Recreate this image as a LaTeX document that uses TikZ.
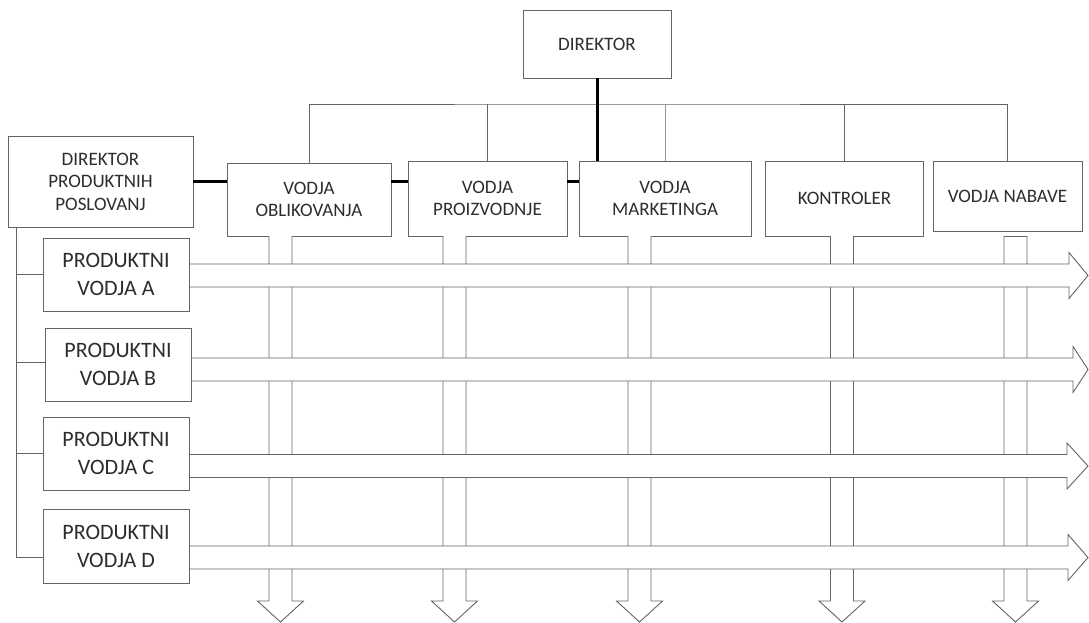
\documentclass[tikz,border=0pt]{standalone}
\usepackage{fontspec}
\setmainfont{Carlito}
\definecolor{linegray}{RGB}{100,100,100}
\definecolor{lightline}{RGB}{150,150,150}
\definecolor{txtgray}{RGB}{45,45,45}
% vertical block arrow: centre x, top y
\newcommand\colarrow[2]{%
  \draw[blockarrow] (#1-11.5,#2) -- (#1-11.5,601) -- (#1-23,601) -- (#1,622)
    -- (#1+23,601) -- (#1+11.5,601) -- (#1+11.5,#2);}
% horizontal block arrow: start x, centre y, head start x
\newcommand\rowarrow[3]{%
  \draw[blockarrow] (#1,#2-11.5) -- (#3,#2-11.5) -- (#3,#2-23) -- (1088,#2)
    -- (#3,#2+23) -- (#3,#2+11.5) -- (#1,#2+11.5) -- cycle;}
\begin{document}
\begin{tikzpicture}[x=1pt,y=-1pt,
  ln/.style={draw=linegray, line width=0.9pt},
  box/.style={ln, fill=white, inner sep=0pt, align=center, text=txtgray,
    font=\fontsize{19}{22.5}\selectfont},
  pbox/.style={box, font=\fontsize{22}{28}\selectfont},
  boldlink/.style={draw=black, line width=3pt},
  blockarrow/.style={ln, fill=white, line join=miter}]
\useasboundingbox (0,0) rectangle (1089,623);

% management boxes
\node[box, minimum width=148pt, minimum height=68pt] (dir) at (597,44) {DIREKTOR};
\node[box, minimum width=185pt, minimum height=91pt] (dpp) at (100.5,181.5)
  {DIREKTOR\\PRODUKTNIH\\POSLOVANJ};
\node[box, minimum width=164pt, minimum height=73pt] (obl) at (309,199.5) {VODJA\\OBLIKOVANJA};
\node[box, minimum width=159pt, minimum height=75pt] (pro) at (487.5,198.5) {VODJA\\PROIZVODNJE};
\node[box, minimum width=172pt, minimum height=75pt] (mkt) at (665,198.5) {VODJA\\MARKETINGA};
\node[box, minimum width=158pt, minimum height=75pt] (kon) at (844.5,198.5) {KONTROLER};
\node[box, minimum width=149pt, minimum height=70pt] (nab) at (1007.5,196) {VODJA NABAVE};

% reporting lines from the director
\coordinate (bar) at (597,104);
\draw[ln] (obl.north) |- (bar) -| (nab.north);
\draw[ln] (pro.north) -- (pro.north |- bar);
\draw[ln] (kon.north) -- (kon.north |- bar);
\draw[draw=lightline, line width=0.9pt] (mkt.north) -- (mkt.north |- bar);
\draw[boldlink] (dir.south) -- (dir.south |- mkt.north);

% bold links between the functional heads
\draw[boldlink] (dpp.east) -- (dpp.east -| obl.west);
\draw[boldlink] (obl.east |- dpp.east) -- (pro.west |- dpp.east);
\draw[boldlink] (pro.east |- dpp.east) -- (mkt.west |- dpp.east);

% functional columns
\colarrow{280.5}{236}
\colarrow{454.5}{236}
\colarrow{639.5}{236}
\colarrow{842}{236}
\colarrow{1015.5}{236}
\draw[ln] (1004,236) -- (1027,236);

% product lines
\rowarrow{189}{275.5}{1069}
\rowarrow{191}{369.5}{1073}
\rowarrow{188}{466}{1067}
\rowarrow{188}{557.5}{1068}

% product managers
\node[pbox, minimum width=146pt, minimum height=73pt] (pA) at (116,274.5) {PRODUKTNI\\VODJA A};
\node[pbox, minimum width=146pt, minimum height=73pt] (pB) at (118,364.5) {PRODUKTNI\\VODJA B};
\node[pbox, minimum width=146pt, minimum height=73pt] (pC) at (116,453.5) {PRODUKTNI\\VODJA C};
\node[pbox, minimum width=146pt, minimum height=74pt] (pD) at (116,546) {PRODUKTNI\\VODJA D};

% tree from the product director
\coordinate (trunk) at (16,227);
\coordinate (trunkend) at (16,557);
\draw[ln] (trunk) -- (trunkend) -- (trunkend -| pD.west);
\draw[ln] (trunk |- pA.west) -- (pA.west);
\draw[ln] (trunk |- 0,362) -- (pB.west |- 0,362);
\draw[ln] (trunk |- pC.west) -- (pC.west);
\end{tikzpicture}
\end{document}
